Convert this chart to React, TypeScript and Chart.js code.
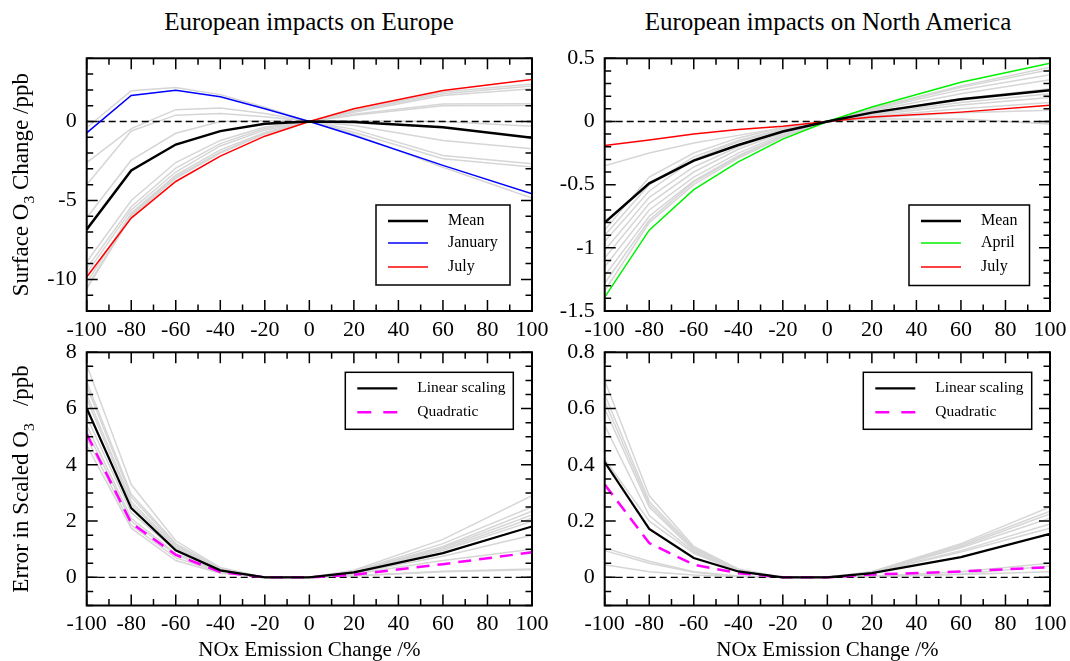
import React, { useEffect, useRef } from "react";
import { Chart, registerables } from "chart.js";
Chart.register(...registerables);

const FAMILY = "'Liberation Serif', 'Times New Roman', serif";

// ---------- data ----------
const nox = [-100, -80, -60, -40, -20, 0, 20, 60, 100];
const zeroX = [-100, 100];
const zeroY = [0, 0];

// Europe -> Europe, surface O3 change (ppb)
const euMean = [-6.84, -3.1, -1.46, -0.61, -0.15, 0, -0.04, -0.36, -1.03];
const euJanuary = [-0.72, 1.65, 1.98, 1.56, 0.8, 0, -0.89, -2.78, -4.58];
const euJuly = [-9.85, -6.12, -3.8, -2.19, -0.93, 0, 0.8, 1.96, 2.66];
const euOtherMonths = [
  [-0.4, 1.95, 2.15, 1.7, 0.9, 0, -0.8, -2.9, -4.85],
  [-2.6, -0.45, 0.75, 0.85, 0.5, 0, -0.5, -2.15, -2.68],
  [-4.0, -0.6, 0.4, 0.5, 0.3, 0, -0.68, -2.36, -2.89],
  [-6.1, -2.45, -0.75, 0.0, 0.05, 0, -0.25, -1.2, -1.73],
  [-8.9, -5.0, -2.6, -1.2, -0.35, 0, 0.05, 0.0, -0.3],
  [-9.3, -5.4, -2.95, -1.4, -0.45, 0, 0.4, 1.0, 1.01],
  [-9.6, -5.6, -3.2, -1.55, -0.55, 0, 0.45, 1.1, 1.12],
  [-10.2, -5.8, -3.4, -1.8, -0.7, 0, 0.59, 1.65, 2.07],
  [-10.5, -5.9, -3.5, -1.95, -0.75, 0, 0.65, 1.75, 2.24],
  [-10.6, -6.0, -3.6, -2.0, -0.8, 0, 0.7, 1.86, 2.38],
];

// Europe -> North America, surface O3 change (ppb)
const naMean = [-0.8, -0.49, -0.31, -0.186, -0.08, 0, 0.07, 0.175, 0.247];
const naApril = [-1.39, -0.86, -0.54, -0.32, -0.14, 0, 0.114, 0.31, 0.46];
const naJuly = [-0.19, -0.146, -0.1, -0.064, -0.037, 0, 0.035, 0.074, 0.128];
const naOtherMonths = [
  [-0.35, -0.25, -0.17, -0.11, -0.05, 0, 0.02, 0.02, -0.02],
  [-0.86, -0.44, -0.25, -0.13, -0.05, 0, 0.03, 0.07, 0.088],
  [-0.9, -0.5, -0.28, -0.15, -0.06, 0, 0.04, 0.1, 0.15],
  [-0.95, -0.55, -0.3, -0.16, -0.065, 0, 0.05, 0.13, 0.19],
  [-1.02, -0.6, -0.36, -0.2, -0.08, 0, 0.06, 0.15, 0.22],
  [-1.08, -0.65, -0.4, -0.22, -0.09, 0, 0.07, 0.18, 0.26],
  [-1.15, -0.7, -0.44, -0.25, -0.1, 0, 0.085, 0.22, 0.33],
  [-1.22, -0.75, -0.47, -0.27, -0.11, 0, 0.095, 0.25, 0.37],
  [-1.28, -0.78, -0.48, -0.28, -0.12, 0, 0.1, 0.27, 0.41],
  [-1.34, -0.8, -0.5, -0.29, -0.125, 0, 0.105, 0.28, 0.43],
];

// Error in scaled O3 (ppb), Europe
const errEuLinear = [6.01, 2.46, 0.96, 0.25, 0, 0, 0.18, 0.86, 1.81];
const errEuQuadratic = [5.09, 1.93, 0.8, 0.19, 0, 0, 0.09, 0.47, 0.89];
const errEuMonths = [
  [7.55, 3.3, 1.3, 0.35, 0, 0, 0.25, 1.35, 2.9],
  [6.95, 2.95, 1.2, 0.32, 0, 0, 0.22, 1.2, 2.5],
  [6.8, 2.85, 1.15, 0.3, 0, 0, 0.21, 1.1, 2.35],
  [6.5, 2.7, 1.1, 0.28, 0, 0, 0.2, 1.05, 2.22],
  [6.35, 2.6, 1.05, 0.27, 0, 0, 0.19, 1.0, 2.1],
  [5.7, 2.3, 0.95, 0.24, 0, 0, 0.18, 0.95, 2.0],
  [5.2, 2.0, 0.8, 0.2, 0, 0, 0.15, 0.75, 1.5],
  [4.95, 1.85, 0.7, 0.17, 0, 0, 0.12, 0.6, 1.0],
  [4.7, 1.75, 0.6, 0.15, 0, 0, 0.05, 0.2, 0.27],
  [5.4, 2.1, 0.85, 0.22, 0, 0, 0.06, 0.22, 0.3],
];

// Error in scaled O3 (ppb), North America
const errNaLinear = [0.41, 0.172, 0.069, 0.021, 0, 0, 0.015, 0.072, 0.155];
const errNaQuadratic = [0.33, 0.122, 0.045, 0.015, 0, 0, 0.01, 0.021, 0.036];
const errNaMonths = [
  [0.7, 0.29, 0.11, 0.03, 0, 0, 0.02, 0.12, 0.25],
  [0.65, 0.27, 0.105, 0.028, 0, 0, 0.02, 0.115, 0.235],
  [0.625, 0.26, 0.1, 0.027, 0, 0, 0.019, 0.11, 0.225],
  [0.6, 0.25, 0.095, 0.026, 0, 0, 0.018, 0.105, 0.21],
  [0.54, 0.22, 0.09, 0.024, 0, 0, 0.017, 0.095, 0.19],
  [0.42, 0.2, 0.085, 0.022, 0, 0, 0.016, 0.09, 0.175],
  [0.104, 0.057, 0.02, 0.005, 0, 0, 0.004, 0.02, 0.05],
  [0.095, 0.05, 0.018, 0.004, 0, 0, 0.003, 0.012, 0.04],
  [0.045, 0.02, 0.008, 0.003, 0, 0, 0.003, 0.01, 0.02],
];

// ---------- ticks ----------
const xTicks = [-100, -90, -80, -70, -60, -50, -40, -30, -20, -10, 0, 10, 20, 30, 40, 50, 60, 70, 80, 90, 100];
const xLabels = [-100, -80, -60, -40, -20, 0, 20, 40, 60, 80, 100];
const euYTicks = [-12, -11, -10, -9, -8, -7, -6, -5, -4, -3, -2, -1, 0, 1, 2, 3, 4];
const euYLabels = [-10, -5, 0];
const naYTicks = [-1.5, -1.4, -1.3, -1.2, -1.1, -1.0, -0.9, -0.8, -0.7, -0.6, -0.5, -0.4, -0.3, -0.2, -0.1, 0, 0.1, 0.2, 0.3, 0.4, 0.5];
const naYLabels = [-1.5, -1, -0.5, 0, 0.5];
const errEuYTicks = [-1, -0.5, 0, 0.5, 1, 1.5, 2, 2.5, 3, 3.5, 4, 4.5, 5, 5.5, 6, 6.5, 7, 7.5, 8];
const errEuYLabels = [0, 2, 4, 6, 8];
const errNaYTicks = [-0.1, -0.05, 0, 0.05, 0.1, 0.15, 0.2, 0.25, 0.3, 0.35, 0.4, 0.45, 0.5, 0.55, 0.6, 0.65, 0.7, 0.75, 0.8];
const errNaYLabels = [0, 0.2, 0.4, 0.6, 0.8];

// ---------- helpers ----------
const pts = (ys: number[], xs: number[] = nox) => xs.map((x, i) => ({ x, y: ys[i] }));
const inList = (list: number[], v: number) => list.some((l) => Math.abs(l - v) < 1e-9);

function greyLines(rows: number[][]) {
  return rows.map((r) => ({
    label: "",
    data: pts(r),
    borderColor: "#d6d6d6",
    borderWidth: 1.5,
    order: 20,
  }));
}
function zeroLine() {
  return {
    label: "",
    data: pts(zeroY, zeroX),
    borderColor: "#000",
    borderWidth: 1.3,
    borderDash: [7, 4],
    order: 10,
  };
}

const decoPlugin = {
  id: "deco",
  afterDatasetsDraw(chart: any, _args: any, o: any) {
    const ctx = chart.ctx;
    const a = chart.chartArea;
    const xs = chart.scales.x;
    const ys = chart.scales.y;
    ctx.save();
    ctx.setLineDash([]);
    ctx.strokeStyle = "#000";
    // inward ticks
    ctx.lineWidth = 1.5;
    ctx.beginPath();
    for (const v of o.xTicks) {
      const px = xs.getPixelForValue(v);
      const len = inList(o.xLabels, v) ? 11 : 6.5;
      ctx.moveTo(px, a.bottom);
      ctx.lineTo(px, a.bottom - len);
      ctx.moveTo(px, a.top);
      ctx.lineTo(px, a.top + len);
    }
    for (const v of o.yTicks) {
      const py = ys.getPixelForValue(v);
      const len = inList(o.yLabels, v) ? 11 : 6.5;
      ctx.moveTo(a.left, py);
      ctx.lineTo(a.left + len, py);
      ctx.moveTo(a.right, py);
      ctx.lineTo(a.right - len, py);
    }
    ctx.stroke();
    // frame
    ctx.lineWidth = 2;
    ctx.strokeRect(a.left, a.top, a.right - a.left, a.bottom - a.top);

    // legend
    const L = o.legend;
    if (L) {
      const bx1 = L.left - o.pageX;
      const by1 = L.top - o.pageY;
      const bx2 = L.right - o.pageX;
      const by2 = L.bottom - o.pageY;
      ctx.fillStyle = "#fff";
      ctx.fillRect(bx1, by1, bx2 - bx1, by2 - by1);
      ctx.lineWidth = 1.5;
      ctx.strokeStyle = "#000";
      ctx.strokeRect(bx1, by1, bx2 - bx1, by2 - by1);
      ctx.font = `${L.fontSize}px ${FAMILY}`;
      ctx.textBaseline = "middle";
      ctx.textAlign = "left";
      L.items.forEach((name: string, i: number) => {
        const ds = chart.data.datasets.find((d: any) => d.label === name);
        const y = L.rows[i] - o.pageY;
        ctx.save();
        ctx.strokeStyle = ds.borderColor;
        ctx.lineWidth = ds.borderWidth;
        ctx.setLineDash(ds.borderDash ? [14, 12] : []);
        ctx.beginPath();
        ctx.moveTo(bx1 + 12, y);
        ctx.lineTo(bx1 + 52, y);
        ctx.stroke();
        ctx.restore();
        ctx.fillStyle = "#000";
        ctx.fillText(name, bx1 + 72, y);
      });
    }

    // y title with subscript
    if (o.yTitle) {
      const size = o.yTitleSize;
      const subSize = size * 0.68;
      let total = 0;
      const widths = o.yTitle.map((seg: any) => {
        ctx.font = `${seg.sub ? subSize : size}px ${FAMILY}`;
        const w = ctx.measureText(seg.text).width;
        total += w;
        return w;
      });
      const cy = (a.top + a.bottom) / 2;
      ctx.translate(o.yTitleX, cy);
      ctx.rotate(-Math.PI / 2);
      ctx.fillStyle = "#000";
      ctx.textBaseline = "alphabetic";
      ctx.textAlign = "left";
      let x = -total / 2;
      o.yTitle.forEach((seg: any, i: number) => {
        ctx.font = `${seg.sub ? subSize : size}px ${FAMILY}`;
        ctx.fillText(seg.text, x, seg.sub ? size * 0.28 : 0);
        x += widths[i];
      });
    }
    ctx.restore();
  },
};

type PanelSpec = {
  left: number;
  top: number;
  w: number;
  h: number;
  yWidth: number;
  xHeight: number;
  padTop: number;
  padRight: number;
  yMin: number;
  yMax: number;
  yTicks: number[];
  yLabels: number[];
  datasets: any[];
  legend: any;
  yTitle?: any[];
  xTitle?: string;
};

function makeConfig(p: PanelSpec): any {
  return {
    type: "line",
    data: { datasets: p.datasets },
    options: {
      animation: false,
      responsive: false,
      maintainAspectRatio: false,
      events: [],
      layout: { padding: { left: 0, right: p.padRight, top: p.padTop, bottom: 0 } },
      elements: { point: { radius: 0 }, line: { tension: 0 } },
      plugins: {
        legend: { display: false },
        tooltip: { enabled: false },
        deco: {
          xTicks,
          xLabels,
          yTicks: p.yTicks,
          yLabels: p.yLabels,
          legend: p.legend,
          pageX: p.left,
          pageY: p.top,
          yTitle: p.yTitle,
          yTitleX: 28,
          yTitleSize: 23,
        },
      },
      scales: {
        x: {
          type: "linear",
          min: -100,
          max: 100,
          afterBuildTicks: (s: any) => {
            s.ticks = xLabels.map((v) => ({ value: v }));
          },
          afterFit: (s: any) => {
            s.height = p.xHeight;
            s.paddingLeft = 0;
            s.paddingRight = 0;
          },
          ticks: {
            autoSkip: false,
            maxRotation: 0,
            minRotation: 0,
            padding: 6,
            color: "#000",
            font: { family: FAMILY, size: 22 },
            callback: (v: any) => String(v),
          },
          grid: { display: false, drawTicks: false },
          border: { display: false },
          title: p.xTitle
            ? {
                display: true,
                text: p.xTitle,
                color: "#000",
                font: { family: FAMILY, size: 21, lineHeight: 1.0 },
                padding: { top: 0, bottom: 0 },
              }
            : { display: false },
        },
        y: {
          type: "linear",
          min: p.yMin,
          max: p.yMax,
          afterBuildTicks: (s: any) => {
            s.ticks = p.yLabels.map((v) => ({ value: v }));
          },
          afterFit: (s: any) => {
            s.width = p.yWidth;
            s.paddingTop = 0;
            s.paddingBottom = 0;
          },
          ticks: {
            autoSkip: false,
            padding: 10,
            color: "#000",
            font: { family: FAMILY, size: 22 },
            callback: (v: any) => String(Number(Number(v).toFixed(3))),
          },
          grid: { display: false, drawTicks: false },
          border: { display: false },
        },
      },
    },
    plugins: [decoPlugin],
  };
}

const panels: PanelSpec[] = [
  {
    left: 0, top: 40, w: 560, h: 305, yWidth: 86.7, xHeight: 34, padTop: 18.3, padRight: 28,
    yMin: -12, yMax: 4, yTicks: euYTicks, yLabels: euYLabels,
    datasets: [
      { label: "Mean", data: pts(euMean), borderColor: "#000", borderWidth: 2.5, order: 0 },
      { label: "January", data: pts(euJanuary), borderColor: "#0000ff", borderWidth: 1.5, order: 1 },
      { label: "July", data: pts(euJuly), borderColor: "#ff0000", borderWidth: 1.5, order: 2 },
      zeroLine(),
      ...greyLines(euOtherMonths),
    ],
    legend: { left: 376, top: 205, right: 510, bottom: 285, rows: [221, 243, 267], items: ["Mean", "January", "July"], fontSize: 16 },
    yTitle: [{ text: "Surface O" }, { text: "3", sub: true }, { text: " Change /ppb" }],
  },
  {
    left: 530, top: 40, w: 540, h: 305, yWidth: 74.7, xHeight: 34, padTop: 18.3, padRight: 20,
    yMin: -1.5, yMax: 0.5, yTicks: naYTicks, yLabels: naYLabels,
    datasets: [
      { label: "Mean", data: pts(naMean), borderColor: "#000", borderWidth: 2.5, order: 0 },
      { label: "April", data: pts(naApril), borderColor: "#00f000", borderWidth: 1.5, order: 1 },
      { label: "July", data: pts(naJuly), borderColor: "#ff0000", borderWidth: 1.5, order: 2 },
      zeroLine(),
      ...greyLines(naOtherMonths),
    ],
    legend: { left: 909, top: 205, right: 1029.5, bottom: 285.5, rows: [221, 243, 267], items: ["Mean", "April", "July"], fontSize: 16 },
  },
  {
    left: 0, top: 335, w: 560, h: 326, yWidth: 86.7, xHeight: 55.5, padTop: 17.3, padRight: 28,
    yMin: -1, yMax: 8, yTicks: errEuYTicks, yLabels: errEuYLabels,
    datasets: [
      { label: "Linear scaling", data: pts(errEuLinear), borderColor: "#000", borderWidth: 2.2, order: 0 },
      { label: "Quadratic", data: pts(errEuQuadratic), borderColor: "#ff00ff", borderWidth: 2.5, borderDash: [13, 8], order: 1 },
      zeroLine(),
      ...greyLines(errEuMonths),
    ],
    legend: { left: 345.3, top: 372.3, right: 513.3, bottom: 429.3, rows: [388.3, 412.3], items: ["Linear scaling", "Quadratic"], fontSize: 15.5 },
    yTitle: [{ text: "Error in Scaled O" }, { text: "3", sub: true }, { text: "   /ppb" }],
    xTitle: "NOx Emission Change /%",
  },
  {
    left: 530, top: 335, w: 540, h: 326, yWidth: 74.7, xHeight: 55.5, padTop: 17.3, padRight: 20,
    yMin: -0.1, yMax: 0.8, yTicks: errNaYTicks, yLabels: errNaYLabels,
    datasets: [
      { label: "Linear scaling", data: pts(errNaLinear), borderColor: "#000", borderWidth: 2.2, order: 0 },
      { label: "Quadratic", data: pts(errNaQuadratic), borderColor: "#ff00ff", borderWidth: 2.5, borderDash: [13, 8], order: 1 },
      zeroLine(),
      ...greyLines(errNaMonths),
    ],
    legend: { left: 863.3, top: 372.3, right: 1031.7, bottom: 429.3, rows: [388.3, 412.3], items: ["Linear scaling", "Quadratic"], fontSize: 15.5 },
    xTitle: "NOx Emission Change /%",
  },
];

function Panel({ spec }: { spec: PanelSpec }) {
  const ref = useRef<HTMLCanvasElement>(null);
  useEffect(() => {
    const chart = new Chart(ref.current as HTMLCanvasElement, makeConfig(spec));
    return () => chart.destroy();
  }, [spec]);
  return (
    <canvas
      ref={ref}
      width={spec.w}
      height={spec.h}
      style={{ position: "absolute", left: spec.left, top: spec.top, width: spec.w, height: spec.h }}
    />
  );
}

const titleStyle: React.CSSProperties = {
  position: "absolute",
  top: 7,
  width: 500,
  textAlign: "center",
  fontFamily: FAMILY,
  fontSize: 25,
  lineHeight: "30px",
  color: "#000",
  whiteSpace: "nowrap",
};

export default function App() {
  return (
    <div style={{ position: "absolute", left: 0, top: 0, width: 1070, height: 661, background: "#fff", overflow: "hidden" }}>
      <div style={{ ...titleStyle, left: 59 }}>European impacts on Europe</div>
      <div style={{ ...titleStyle, left: 578 }}>European impacts on North America</div>
      {panels.map((p, i) => (
        <Panel key={i} spec={p} />
      ))}
    </div>
  );
}
